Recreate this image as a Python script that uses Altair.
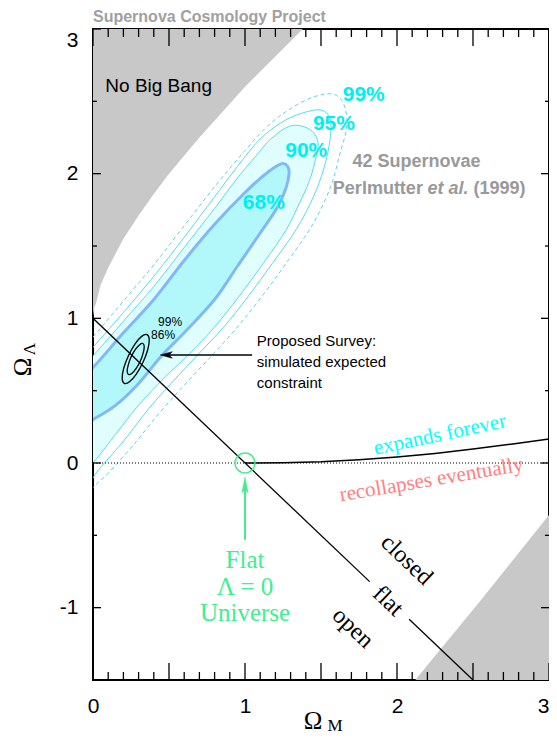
import altair as alt
import pandas as pd

# ---------------- data ----------------
x_tick_labels = [0, 1, 2, 3]
y_tick_labels = [-1, 0, 1, 2, 3]
x_major_ticks = [0, 0.5, 1, 1.5, 2, 2.5, 3]
x_minor_ticks = [0.1, 0.2, 0.3, 0.4, 0.6, 0.7, 0.8, 0.9, 1.1, 1.2, 1.3, 1.4,
                 1.6, 1.7, 1.8, 1.9, 2.1, 2.2, 2.3, 2.4, 2.6, 2.7, 2.8, 2.9]
y_major_ticks = [-1, 0, 1, 2, 3]
y_minor_ticks = [-0.5, 0.5, 1.5, 2.5]

# "No Big Bang" boundary
nobigbang_om = [0.0, 0.001, 0.01, 0.02, 0.05, 0.1, 0.2, 0.3, 0.4, 0.5, 0.7, 1.0, 1.2, 1.4, 1.45]
nobigbang_ol = [1.0, 1.02, 1.08, 1.105, 1.23, 1.35, 1.55, 1.71, 1.86, 2.0, 2.25, 2.6, 2.81, 3.02, 3.07]

# lower-right grey region boundary
young_om = [2.12, 2.55, 3.0]
young_ol = [-1.5, -0.95, -0.36]

# expands forever / recollapses boundary
recol_om = [1.0, 1.25, 1.5, 1.75, 2.0, 2.25, 2.5, 2.75, 3.0]
recol_ol = [0.0, 0.0015, 0.0084, 0.0224, 0.042, 0.0664, 0.096, 0.1298, 0.1667]

# flat universe line (with a gap for the label)
flat_om = [0.0, 1.82, 2.08, 2.5]
flat_ol = [1.0, -0.82, -1.08, -1.5]
flat_seg = [1, 1, 2, 2]

zero_om = [0.0, 3.0]
zero_ol = [0.0, 0.0]

# confidence contours (closed outlines)
c68_om = [-0.25, 0.0, 0.2, 0.4, 0.6, 0.8, 1.0, 1.15, 1.25, 1.29,
          1.23, 1.1, 0.95, 0.8, 0.6, 0.45, 0.3, 0.15, 0.0, -0.25]
c68_ol = [0.40, 0.66, 0.90, 1.13, 1.40, 1.65, 1.87, 2.01, 2.07, 2.00,
          1.80, 1.59, 1.36, 1.13, 0.90, 0.74, 0.55, 0.40, 0.30, 0.15]

c90_om = [-0.25, 0.0, 0.2, 0.4, 0.6, 0.8, 0.95, 1.07, 1.17, 1.30, 1.42, 1.48,
          1.46, 1.42, 1.36, 1.27, 1.12, 0.96, 0.8, 0.64, 0.48, 0.3, 0.15, 0.0, -0.25]
c90_ol = [0.45, 0.74, 0.98, 1.22, 1.49, 1.76, 1.97, 2.12, 2.24, 2.33, 2.31, 2.22,
          2.08, 1.94, 1.80, 1.61, 1.38, 1.15, 0.94, 0.76, 0.60, 0.40, 0.20, 0.0, -0.30]

c95_om = [-0.25, 0.0, 0.2, 0.4, 0.6, 0.8, 0.95, 1.1, 1.25, 1.38, 1.50, 1.56,
          1.56, 1.52, 1.45, 1.34, 1.18, 1.02, 0.86, 0.70, 0.54, 0.37, 0.2, 0.05, -0.25]
c95_ol = [0.50, 0.80, 1.04, 1.29, 1.56, 1.84, 2.05, 2.24, 2.36, 2.42, 2.44, 2.38,
          2.24, 2.04, 1.84, 1.62, 1.38, 1.15, 0.94, 0.76, 0.58, 0.38, 0.15, -0.03, -0.40]

c99_om = [-0.25, 0.0, 0.2, 0.4, 0.6, 0.8, 1.0, 1.15, 1.3, 1.45, 1.58, 1.65,
          1.67, 1.62, 1.56, 1.44, 1.27, 1.11, 0.95, 0.78, 0.61, 0.44, 0.27, 0.1, 0.0, -0.25]
c99_ol = [0.56, 0.87, 1.12, 1.37, 1.64, 1.91, 2.16, 2.33, 2.45, 2.53, 2.55, 2.48,
          2.33, 2.12, 1.90, 1.64, 1.38, 1.15, 0.94, 0.74, 0.55, 0.35, 0.13, -0.07, -0.17, -0.45]

# proposed survey simulated constraint (86% and 99%)
s99_om = [0.356, 0.370, 0.360, 0.329, 0.285, 0.240, 0.206, 0.192, 0.202, 0.233, 0.277, 0.322]
s99_ol = [0.888, 0.854, 0.783, 0.696, 0.614, 0.561, 0.550, 0.584, 0.655, 0.742, 0.824, 0.877]
s86_om = [0.328, 0.337, 0.330, 0.311, 0.283, 0.255, 0.234, 0.225, 0.232, 0.251, 0.279, 0.307]
s86_ol = [0.826, 0.804, 0.760, 0.704, 0.653, 0.619, 0.612, 0.634, 0.678, 0.734, 0.785, 0.818]

flat_lcdm_om = [1.0]
flat_lcdm_ol = [0.0]

# ---------------- layout ----------------
W, H = 456, 651
xs = alt.Scale(domain=[0, 3], nice=False, zero=False)
ys = alt.Scale(domain=[-1.5, 3], nice=False, zero=False)
SANS = "Liberation Sans"
SERIF = "Liberation Serif"

AX_X = alt.Axis(values=x_tick_labels, labelExpr="'' + datum.value", tickSize=0,
                domain=False, grid=False, labelFlush=False,
                labelAlign={"condition": {"test": "datum.value == 3", "value": "right"},
                            "value": "center"},
                labelFont=SANS, labelFontSize=21, labelColor="black", labelPadding=15,
                title=None)
AX_Y = alt.Axis(values=y_tick_labels, labelExpr="'' + datum.value", tickSize=0,
                domain=False, grid=False,
                labelFont=SANS, labelFontSize=21, labelColor="black", labelPadding=15,
                labelFlush=True, title=None)


def X(field="x"):
    return alt.X(f"{field}:Q", scale=xs, axis=AX_X)


def Y(field="y"):
    return alt.Y(f"{field}:Q", scale=ys, axis=AX_Y)


def poly(om, ol):
    return pd.DataFrame({"x": om, "y": ol, "i": list(range(len(om)))})


layers = []

# grey regions
layers.append(
    alt.Chart(pd.DataFrame({"x": nobigbang_om, "y": nobigbang_ol})).mark_area(
        color="#c8c8c8", clip=True).encode(x=X(), y=Y(), y2=alt.datum(3))
)
layers.append(
    alt.Chart(pd.DataFrame({"x": young_om, "y": young_ol})).mark_area(
        color="#c8c8c8", clip=True).encode(x=X(), y=Y(), y2=alt.datum(-1.5))
)

# contours
contour_styles = [
    (c99_om, c99_ol, dict(stroke="#66d0f0", strokeWidth=1, strokeDash=[4, 3])),
    (c95_om, c95_ol, dict(stroke="#55dcee", strokeWidth=1)),
    (c90_om, c90_ol, dict(stroke="#55dcee", strokeWidth=1, fill="#e0fefe")),
    (c68_om, c68_ol, dict(stroke="#80b8f8", strokeWidth=3, fill="#b2f8fa")),
]
for om, ol, st in contour_styles:
    layers.append(
        alt.Chart(poly(om, ol)).mark_line(interpolate="cardinal-closed", clip=True, **st)
        .encode(x=X(), y=Y(), order=alt.Order("i:Q"))
    )

# survey ellipses
for om, ol in [(s99_om, s99_ol), (s86_om, s86_ol)]:
    layers.append(
        alt.Chart(poly(om, ol)).mark_line(interpolate="cardinal-closed", stroke="black",
                                          strokeWidth=1.3)
        .encode(x=X(), y=Y(), order=alt.Order("i:Q"))
    )

# zero line (dotted)
layers.append(
    alt.Chart(pd.DataFrame({"x": zero_om, "y": zero_ol})).mark_line(
        color="black", strokeWidth=1, strokeDash=[1, 2]).encode(x=X(), y=Y())
)
# recollapse boundary
layers.append(
    alt.Chart(pd.DataFrame({"x": recol_om, "y": recol_ol})).mark_line(
        color="black", strokeWidth=1.5).encode(x=X(), y=Y())
)
# flat line
layers.append(
    alt.Chart(pd.DataFrame({"x": flat_om, "y": flat_ol, "s": flat_seg})).mark_line(
        color="black", strokeWidth=1.3, clip=True).encode(x=X(), y=Y(), detail="s:N")
)

# green circle at flat lambda=0
layers.append(
    alt.Chart(pd.DataFrame({"x": flat_lcdm_om, "y": flat_lcdm_ol})).mark_point(
        shape="circle", size=400, stroke="#40ee90", strokeWidth=1.5, filled=False,
        opacity=1).encode(x=X(), y=Y())
)


def seg(x1, y1, x2, y2, color, width=1.5):
    df = pd.DataFrame({"x": [x1, x2], "y": [y1, y2]})
    return alt.Chart(df).mark_line(color=color, strokeWidth=width).encode(x=X(), y=Y())


def head(x, y, path, size, color):
    df = pd.DataFrame({"x": [x], "y": [y]})
    return alt.Chart(df).mark_point(shape=path, size=size, fill=color, filled=True,
                                    stroke=color, strokeWidth=0.5, opacity=1).encode(x=X(), y=Y())


# green arrow
layers.append(seg(1.0, -0.53, 1.0, -0.16, "#40ee90", 2))
layers.append(head(1.0, -0.152, "M0,-1L-0.4,1L0,0.6L0.4,1Z", 256, "#40ee90"))
# black arrow
layers.append(seg(1.047, 0.747, 0.48, 0.747, "black", 1.5))
layers.append(head(0.482, 0.747, "M-1,0L1,-0.55L0.5,0L1,0.55Z", 144, "black"))


def label(text, x, y, size, color="black", font=SANS, align="center", weight="normal",
          style="normal", angle=0, baseline="middle"):
    df = pd.DataFrame({"x": [x], "y": [y], "t": [text]})
    return alt.Chart(df).mark_text(
        font=font, fontSize=size, color=color, align=align, baseline=baseline,
        fontWeight=weight, fontStyle=style, angle=angle
    ).encode(x=X(), y=Y(), text="t:N")


CYAN = "#00eeee"
GREY = "#999999"
layers += [
    label("No Big Bang", 0.081, 2.607, 19, align="left"),
    label("99%", 1.781, 2.545, 21, CYAN, weight="bold"),
    label("95%", 1.585, 2.344, 21, CYAN, weight="bold"),
    label("90%", 1.403, 2.158, 21, CYAN, weight="bold"),
    label("68%", 1.124, 1.798, 21, CYAN, weight="bold"),
    label("42 Supernovae", 2.128, 2.082, 18, GREY, weight="bold"),
    label("Perlmutter", 1.578, 1.895, 18, GREY, weight="bold", align="left"),
    label("et al.", 2.200, 1.895, 18, GREY, weight="bold", style="italic", align="left"),
    label("(1999)", 2.503, 1.895, 18, GREY, weight="bold", align="left"),
    label("99%", 0.507, 0.977, 12),
    label("86%", 0.461, 0.882, 12),
    label("Proposed Survey:", 1.078, 0.844, 15, align="left"),
    label("simulated expected", 1.078, 0.698, 15, align="left"),
    label("constraint", 1.078, 0.553, 15, align="left"),
    label("expands forever", 2.282, 0.194, 21, "#00ffff", font=SERIF, angle=348),
    label("recollapses eventually", 2.227, -0.118, 21, "#ff8080", font=SERIF, angle=350.5),
    label("closed", 2.063, -0.671, 24, font=SERIF, angle=43.5),
    label("flat", 1.94, -0.955, 24, font=SERIF, angle=43.5),
    label("open", 1.709, -1.141, 24, font=SERIF, angle=43.5),
    label("Flat", 1.0, -0.671, 25, "#40ee90", font=SERIF),
    label("Λ = 0", 1.0, -0.858, 25, "#40ee90", font=SERIF),
    label("Universe", 1.0, -1.037, 25, "#40ee90", font=SERIF),
]


def pxlabel(text, px, py, size, font=SERIF, color="black", angle=0, align="center",
            weight="normal"):
    df = pd.DataFrame({"t": [text]})
    return alt.Chart(df).mark_text(
        font=font, fontSize=size, color=color, angle=angle, align=align,
        baseline="middle", fontWeight=weight
    ).encode(x=alt.value(px), y=alt.value(py), text="t:N")


layers += [
    pxlabel("Supernova Cosmology Project", 0, -12, 16, font=SANS, color="#a0a0a0",
            align="left", weight="bold"),
    pxlabel("Ω", 220, 692, 25),
    pxlabel("M", 242, 697, 17),
    pxlabel("Ω", -70, 338, 25, angle=270),
    pxlabel("Λ", -63, 320, 17, angle=270),
]


# inward ticks
def xticks(vals, length):
    df = pd.DataFrame({"v": vals})
    bot = alt.Chart(df).mark_rule(color="black", strokeWidth=1.3).encode(
        x=X("v"), y=alt.value(H), y2=alt.value(H - length))
    top = alt.Chart(df).mark_rule(color="black", strokeWidth=1.3).encode(
        x=X("v"), y=alt.value(0), y2=alt.value(length))
    return [bot, top]


def yticks(vals, length):
    df = pd.DataFrame({"v": vals})
    left = alt.Chart(df).mark_rule(color="black", strokeWidth=1.3).encode(
        y=Y("v"), x=alt.value(0), x2=alt.value(length))
    right = alt.Chart(df).mark_rule(color="black", strokeWidth=1.3).encode(
        y=Y("v"), x=alt.value(W), x2=alt.value(W - length))
    return [left, right]


layers += xticks(x_major_ticks, 17) + xticks(x_minor_ticks, 8)
layers += yticks(y_major_ticks, 8) + yticks(y_minor_ticks, 4)

chart = alt.layer(*layers).properties(
    width=W, height=H,
    autosize=alt.AutoSizeParams(type="none"),
    padding={"left": 85, "top": 21, "right": 0, "bottom": 56},
).configure_view(stroke="black", strokeWidth=2)

chart.save("out.html", embed_options={"renderer": "svg", "actions": False})
